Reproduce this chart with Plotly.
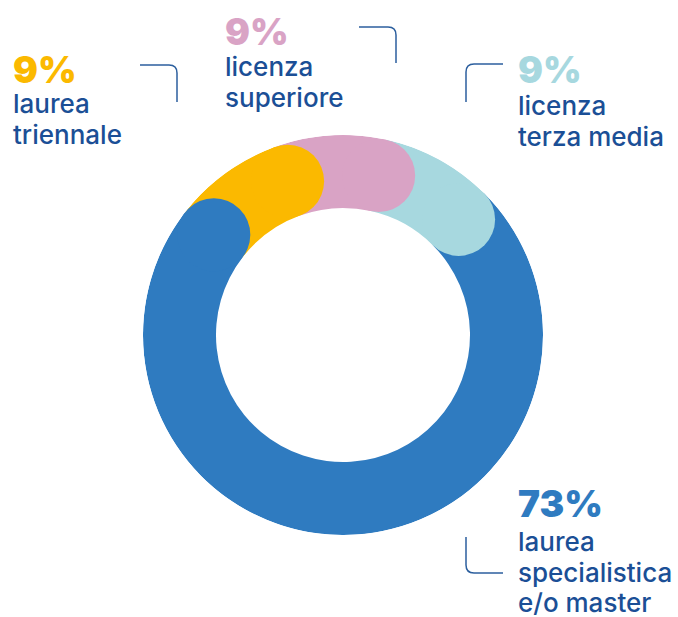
import plotly.graph_objects as go

# ---- data ----
categories = ["laurea<br>specialistica<br>e/o master", "laurea<br>triennale",
              "licenza<br>superiore", "licenza<br>terza media"]
values = [73, 9, 9, 9]
colors = ["#2F7BC0", "#FBB900", "#D9A3C5", "#A7D8DF"]

# ---- geometry / styling ----
W, H = 678, 617
CX, CY = 343, 335          # ring centre (px)
R_OUT, R_IN = 200, 127     # ring radii (px == radial units)
START = 45                 # angle (deg, clockwise from 12 o'clock) where the first slice begins
TEXT_DARK = "#1B4F96"
LINE_COL = "#2C5F9E"
PCT_SIZE = 37
TXT_SIZE = 26
LINE_STEP = 30.5           # baseline-to-baseline distance of label lines (px)

# label anchors: (percent x, percent y-centre, text x, first baseline y) in px
label_pos = [
    (516, 503.5, 516, 551),
    (11, 69, 11, 113),
    (223, 31, 223, 76),
    (516, 70, 516, 115),
]


def px(x, y):
    return x / W, 1 - y / H


total = sum(values)
spans = [v / total * 360 for v in values]
starts, ends = [], []
a = START
for s in spans:
    starts.append(a)
    ends.append(a + s)
    a += s
mids = [(s + e) / 2 for s, e in zip(starts, ends)]

thick = R_OUT - R_IN
r_mid = R_IN + thick / 2

fig = go.Figure()

# ring segments
for cat, s, m, c in zip(categories, spans, mids, colors):
    fig.add_trace(go.Barpolar(
        r=[thick], base=[R_IN], theta=[m], width=[s],
        marker=dict(color=c, line=dict(width=0)),
        name=cat.replace("<br>", " "), hoverinfo="skip", showlegend=False,
    ))

# rounded end caps, each laid over the start of the following slice
for e, c in zip(ends, colors):
    fig.add_trace(go.Scatterpolar(
        r=[r_mid], theta=[e], mode="markers",
        marker=dict(size=thick, color=c, line=dict(width=0)),
        hoverinfo="skip", showlegend=False,
    ))

x0, y1 = px(CX - R_OUT, CY - R_OUT)
x1, y0 = px(CX + R_OUT, CY + R_OUT)

fig.update_layout(
    width=W, height=H, autosize=False,
    margin=dict(l=0, r=0, t=0, b=0),
    paper_bgcolor="white", plot_bgcolor="white",
    polar=dict(
        domain=dict(x=[x0, x1], y=[y0, y1]),
        bgcolor="rgba(0,0,0,0)",
        bargap=0,
        radialaxis=dict(range=[0, R_OUT], visible=False),
        angularaxis=dict(rotation=90, direction="clockwise", visible=False),
        hole=0,
    ),
)

# labels: bold percentage, then the category name line by line
for cat, v, c, (pxx, pyy, tx, base_y) in zip(categories, values, colors, label_pos):
    ax_, ay_ = px(pxx, pyy)
    fig.add_annotation(
        x=ax_, y=ay_, xref="paper", yref="paper", xanchor="left", yanchor="middle",
        text=f"{v}%", showarrow=False, align="left",
        font=dict(family="Inter", size=PCT_SIZE, color=c, weight=900),
    )
    for i, line in enumerate(cat.split("<br>")):
        bl = base_y + i * LINE_STEP
        bx, by = px(tx, bl - 0.36 * TXT_SIZE)
        fig.add_annotation(
            x=bx, y=by, xref="paper", yref="paper", xanchor="left", yanchor="middle",
            text=line, showarrow=False, align="left",
            font=dict(family="Inter", size=TXT_SIZE, color=TEXT_DARK, weight=500),
        )

# leader lines with rounded corners (px polylines: start, corner, end)
leaders = [
    [(140, 65), (177, 65), (177, 102)],
    [(359, 27), (396, 27), (396, 63)],
    [(503, 64), (466, 64), (466, 102)],
    [(466, 537), (466, 573), (503, 573)],
]
RAD = 8


def toward(a, b, d):
    dx, dy = b[0] - a[0], b[1] - a[1]
    n = (dx * dx + dy * dy) ** 0.5
    return (a[0] + dx / n * d, a[1] + dy / n * d)


for (p0, pc, p2) in leaders:
    q0 = toward(pc, p0, RAD)
    q2 = toward(pc, p2, RAD)
    pts = [px(*p) for p in (p0, q0, pc, q2, p2)]
    path = (f"M {pts[0][0]},{pts[0][1]} L {pts[1][0]},{pts[1][1]} "
            f"Q {pts[2][0]},{pts[2][1]} {pts[3][0]},{pts[3][1]} L {pts[4][0]},{pts[4][1]}")
    fig.add_shape(type="path", path=path, xref="paper", yref="paper",
                  line=dict(color=LINE_COL, width=1.5))

fig.write_html("out.html")
